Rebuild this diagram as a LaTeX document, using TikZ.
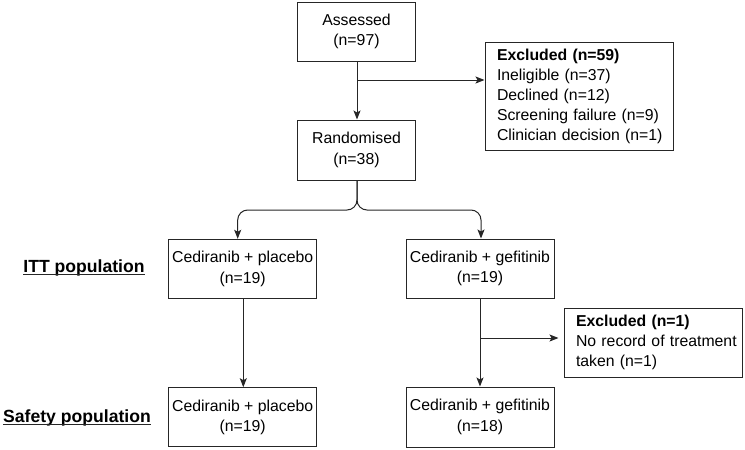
\documentclass[tikz,border=0pt]{standalone}
\usepackage{fontspec}
\setmainfont{Liberation Sans}
\usetikzlibrary{arrows.meta,calc}
\begin{document}
\begin{tikzpicture}[x=1pt,y=-1pt,
  box/.style={draw=black!85,line width=1pt,rectangle,inner sep=0pt,align=center,
    font=\fontsize{15.8}{20.5}\selectfont},
  exbox/.style={draw=black!85,line width=1pt,rectangle,inner ysep=0pt,align=left,
    font=\fontsize{15.8}{20}\selectfont},
  poplabel/.style={font=\fontsize{17.6}{21}\selectfont\bfseries,inner sep=0pt},
  uline/.style={draw=black!85,line width=1.3pt},
  arr/.style={draw=black!85,line width=1pt,-{Stealth[length=9pt,width=7pt,inset=2pt]}}]
\useasboundingbox (0,0) rectangle (745,450);

\node[box,minimum width=118.5pt,minimum height=59pt] (ass) at (356.5,31.5) {Assessed\\(n=97)};
\node[box,minimum width=118.5pt,minimum height=60pt] (ran) at (356.5,150) {Randomised\\(n=38)};
\node[exbox,minimum height=108pt,text width=164pt,inner xsep=12pt] (exc1) at (579,96)
  {\mbox{\textbf{Excluded (n=59)}}\\\mbox{Ineligible (n=37)}\\\mbox{Declined (n=12)}\\\mbox{Screening failure (n=9)}\\\mbox{Clinician decision (n=1)}};
\node[box,minimum width=148pt,minimum height=59pt] (itt1) at (242.7,268.8) {Cediranib + placebo\\(n=19)};
\node[box,minimum width=148pt,minimum height=59pt] (itt2) at (480,268.5) {Cediranib + gefitinib\\(n=19)};
\node[exbox,minimum height=69pt,text width=154pt,inner xsep=12pt] (exc2) at (653,342.5)
  {\mbox{\textbf{Excluded (n=1)}}\\\mbox{No record of treatment}\\\mbox{taken (n=1)}};
\node[box,minimum width=148pt,minimum height=59pt] (saf1) at (242.7,417.2) {Cediranib + placebo\\(n=19)};
\node[box,minimum width=148pt,minimum height=60pt] (saf2) at (480,417) {Cediranib + gefitinib\\(n=18)};

\node[poplabel] (lab1) at (84,268) {ITT population};
\node[poplabel] (lab2) at (77,418) {Safety population};
\draw[uline] ([yshift=-1.8pt]lab1.base west) -- ([yshift=-1.8pt]lab1.base east);
\draw[uline] ([yshift=-1.8pt]lab2.base west) -- ([yshift=-1.8pt]lab2.base east);

\coordinate (b1) at (357,80);
\coordinate (sp) at (357,210);
\coordinate (b2) at (480,338);

\draw[arr] ([xshift=0.5pt]ass.south) -- ([xshift=0.5pt]ran.north);
\draw[arr] (b1) -- (b1 -| exc1.west);
\draw[arr,rounded corners=10pt] ([xshift=0.5pt]ran.south) -- (sp) -| ([xshift=-5pt]itt1.north);
\draw[arr,rounded corners=10pt] ([xshift=0.5pt]ran.south) -- (sp) -| ([xshift=1pt]itt2.north);
\draw[arr] ([xshift=0.6pt]itt1.south) -- ([xshift=0.6pt]saf1.north);
\draw[arr] (itt2.south) -- (saf2.north);
\draw[arr,shorten >=5pt] (b2) -- (b2 -| exc2.west);
\end{tikzpicture}
\end{document}
